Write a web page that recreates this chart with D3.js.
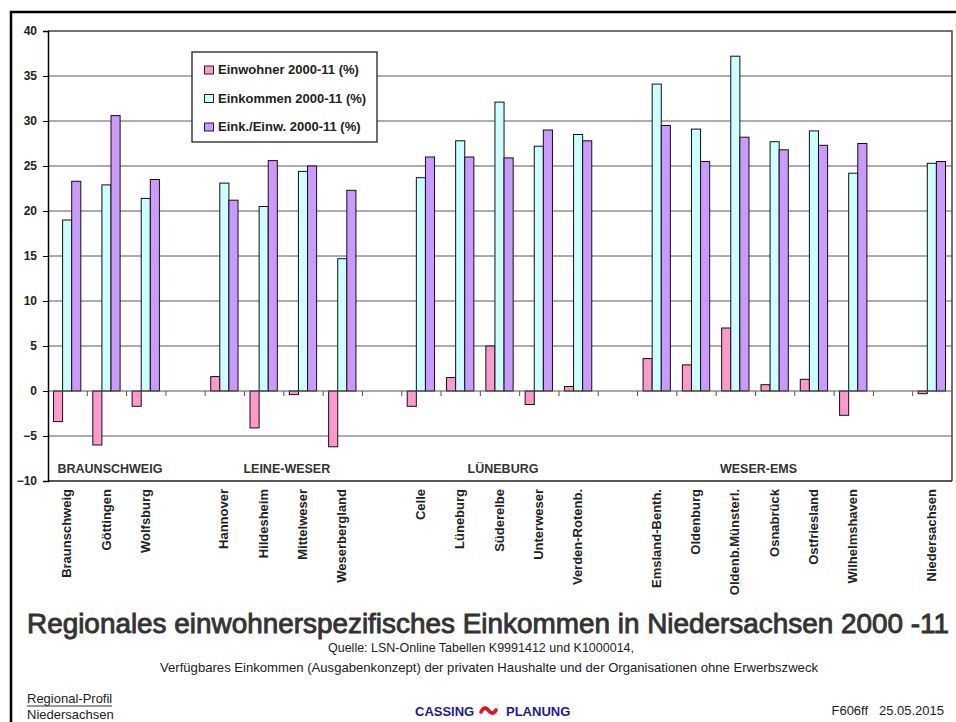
<!DOCTYPE html>
<html>
<head>
<meta charset="utf-8">
<script src="https://cdn.jsdelivr.net/npm/d3@7"></script>
<style>
  body { margin: 0; background: #fff; }
  svg { display: block; font-family: "Liberation Sans", Arial, sans-serif; }
</style>
</head>
<body>
<svg id="chart"></svg>
<script>
// categories, null = empty slot between regions
const categories = [
  'Braunschweig', 'Göttingen', 'Wolfsburg', null,
  'Hannover', 'Hildesheim', 'Mittelweser', 'Weserbergland', null,
  'Celle', 'Lüneburg', 'Süderelbe', 'Unterweser', 'Verden-Rotenb.', null,
  'Emsland-Benth.', 'Oldenburg', 'Oldenb.Münsterl.', 'Osnabrück', 'Ostfriesland', 'Wilhelmshaven', null,
  'Niedersachsen'
]
const einwohner = [
  -3.4, -6.0, -1.7, null,
  1.6, -4.1, -0.4, -6.2, null,
  -1.7, 1.5, 5.0, -1.5, 0.5, null,
  3.6, 2.9, 7.0, 0.7, 1.3, -2.7, null,
  -0.3
]
const einkommen = [
  19.0, 22.9, 21.4, null,
  23.1, 20.5, 24.4, 14.7, null,
  23.7, 27.8, 32.1, 27.2, 28.5, null,
  34.1, 29.1, 37.2, 27.7, 28.9, 24.2, null,
  25.3
]
const einkProEinw = [
  23.3, 30.6, 23.5, null,
  21.2, 25.6, 25.0, 22.3, null,
  26.0, 26.0, 25.9, 29.0, 27.8, null,
  29.5, 25.5, 28.2, 26.8, 27.3, 27.5, null,
  25.5
]
const seriesNames = ['Einwohner 2000-11 (%)', 'Einkommen 2000-11 (%)', 'Eink./Einw. 2000-11 (%)']
const seriesColors = ['#ff99cc', '#ccffff', '#cc99ff']
const regionNames = ['BRAUNSCHWEIG', 'LEINE-WESER', 'LÜNEBURG', 'WESER-EMS']
const regionFirst = [0, 4, 9, 15]
const regionLast = [2, 7, 13, 20]
const yTicks = d3.range(-10, 41, 5)

const w = 956
const h = 722
const svg = d3.select('#chart').attr('width', w).attr('height', h)
svg.append('rect').attr('width', w).attr('height', h).attr('fill', '#fff')

// outer frame (top + left only visible)
svg.append('path').attr('d', 'M11,722 V12 H956').attr('fill', 'none').attr('stroke', '#000').attr('stroke-width', 2.5)

// plot area
const pLeft = 48, pRight = 952, pTop = 31, pBottom = 481
const x = d3.scaleBand().domain(d3.range(categories.length)).range([pLeft, pRight])
const xSub = d3.scaleBand().domain(d3.range(3)).range([5.5, x.bandwidth() - 6.5])
const y = d3.scaleLinear().domain([-10, 40]).range([pBottom, pTop])

// gridlines
svg.append('g').selectAll('line')
  .data(yTicks.filter(t => t !== 0 && t !== -10 && t !== 40))
  .join('line')
    .attr('x1', pLeft).attr('x2', pRight)
    .attr('y1', d => y(d)).attr('y2', d => y(d))
    .attr('stroke', '#5a5a5a').attr('stroke-width', 1)

// plot border top / right / bottom
svg.append('path')
  .attr('d', `M${pLeft},${y(40)} H${pRight} V${pBottom}`)
  .attr('fill', 'none').attr('stroke', '#444').attr('stroke-width', 1.5)
svg.append('line').attr('x1', pLeft).attr('x2', pRight).attr('y1', pBottom).attr('y2', pBottom)
  .attr('stroke', '#222').attr('stroke-width', 1.5)

// bars
const series = [einwohner, einkommen, einkProEinw]
series.forEach((vals, s) => {
  svg.append('g').selectAll('rect')
    .data(vals.map((v, i) => ({ i, v })).filter(d => d.v !== null))
    .join('rect')
      .attr('x', d => x(d.i) + xSub(s))
      .attr('width', xSub.bandwidth())
      .attr('y', d => y(Math.max(0, d.v)))
      .attr('height', d => Math.abs(y(d.v) - y(0)))
      .attr('fill', seriesColors[s])
      .attr('stroke', '#111')
      .attr('stroke-width', 1)
})

// zero line with category boundary ticks
const zero = svg.append('g').attr('transform', `translate(0,${y(0)})`)
zero.append('line').attr('x1', pLeft).attr('x2', pRight).attr('stroke', '#555').attr('stroke-width', 1.2)
zero.selectAll('.bt')
  .data(d3.range(1, categories.length))
  .join('line')
    .attr('x1', d => x(d)).attr('x2', d => x(d))
    .attr('y1', 0).attr('y2', 5)
    .attr('stroke', '#555')

// y axis
const yAxis = d3.axisLeft(y).tickValues(yTicks).tickSize(5).tickPadding(6)
const ya = svg.append('g').attr('transform', `translate(${pLeft},0)`).call(yAxis)
ya.select('.domain').attr('stroke', '#000').attr('stroke-width', 1.5)
ya.selectAll('.tick line').attr('stroke', '#000')
ya.selectAll('.tick text')
  .attr('font-size', 12).attr('font-weight', 'bold').attr('fill', '#222')
  .attr('font-family', '"Liberation Sans", Arial, sans-serif')

// category labels
svg.append('g').selectAll('text')
  .data(categories.map((c, i) => ({ c, i })).filter(d => d.c))
  .join('text')
    .attr('transform', d => `translate(${x(d.i) + x.bandwidth() / 2 - 1},489) rotate(-90)`)
    .attr('text-anchor', 'end')
    .attr('dy', '0.35em')
    .attr('font-size', 13)
    .attr('font-weight', 'bold')
    .attr('fill', '#222')
    .text(d => d.c)

// region labels
svg.append('g').selectAll('text')
  .data(regionNames)
  .join('text')
    .attr('x', (d, i) => (x(regionFirst[i]) + x(regionLast[i]) + x.bandwidth()) / 2 + 3)
    .attr('y', 473)
    .attr('text-anchor', 'middle')
    .attr('font-size', 12.5)
    .attr('font-weight', 'bold')
    .attr('fill', '#333')
    .text(d => d)

// legend
const lg = svg.append('g').attr('transform', 'translate(192,52)')
lg.append('rect').attr('width', 185).attr('height', 90)
  .attr('fill', '#fff').attr('stroke', '#222').attr('stroke-width', 1.3)
seriesNames.forEach((name, i) => {
  const row = lg.append('g').attr('transform', `translate(0,${17.5 + i * 28.5})`)
  row.append('rect').attr('x', 12.5).attr('y', -3.5).attr('width', 9).attr('height', 8)
    .attr('fill', seriesColors[i]).attr('stroke', '#222')
  row.append('text').attr('x', 26).attr('y', 4.5)
    .attr('font-size', 13).attr('font-weight', 'bold').attr('fill', '#222')
    .text(name)
})

// title and notes
svg.append('text').attr('x', 27).attr('y', 633)
  .attr('textLength', 922).attr('lengthAdjust', 'spacingAndGlyphs')
  .attr('font-size', 28).attr('fill', '#333')
  .attr('stroke', '#333').attr('stroke-width', 0.9)
  .text('Regionales einwohnerspezifisches Einkommen in Niedersachsen 2000 -11')
svg.append('text').attr('x', 328).attr('y', 652)
  .attr('textLength', 306).attr('lengthAdjust', 'spacingAndGlyphs')
  .attr('font-size', 13).attr('fill', '#222')
  .text('Quelle: LSN-Online Tabellen K9991412 und K1000014,')
svg.append('text').attr('x', 160).attr('y', 672)
  .attr('textLength', 658).attr('lengthAdjust', 'spacingAndGlyphs')
  .attr('font-size', 13).attr('fill', '#222')
  .text('Verfügbares Einkommen (Ausgabenkonzept) der privaten Haushalte und der Organisationen ohne Erwerbszweck')

// footer
svg.append('text').attr('x', 27).attr('y', 703).attr('font-size', 13).attr('fill', '#222').text('Regional-Profil')
svg.append('line').attr('x1', 27).attr('x2', 112).attr('y1', 706).attr('y2', 706).attr('stroke', '#333')
svg.append('text').attr('x', 27).attr('y', 719).attr('font-size', 13).attr('fill', '#222').text('Niedersachsen')
svg.append('text').attr('x', 415).attr('y', 716).attr('font-size', 13).attr('font-weight', 'bold')
  .attr('fill', '#1a1a9c').text('CASSING')
svg.append('text').attr('x', 506).attr('y', 716).attr('font-size', 13).attr('font-weight', 'bold')
  .attr('fill', '#1a1a9c').text('PLANUNG')
svg.append('path').attr('d', 'M481,712 C484,706 487,708 489,711 C491,714 494,714 496,710')
  .attr('fill', 'none').attr('stroke', '#e8101a').attr('stroke-width', 3.6).attr('stroke-linecap', 'round')
svg.append('text').attr('x', 944).attr('y', 715).attr('text-anchor', 'end').attr('font-size', 13)
  .attr('fill', '#222').attr('xml:space', 'preserve').text('F606ff   25.05.2015')
</script>
</body>
</html>
